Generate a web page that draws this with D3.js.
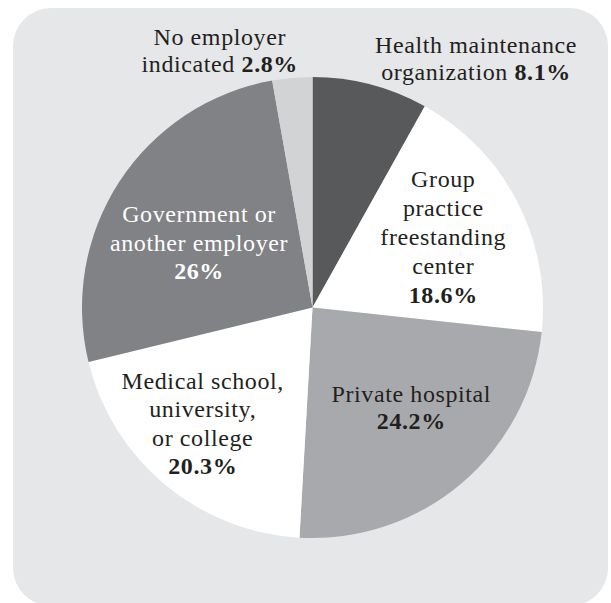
<!DOCTYPE html>
<html>
<head>
<meta charset="utf-8">
<script src="https://cdn.jsdelivr.net/npm/d3@7"></script>
<style>
  html, body { margin: 0; padding: 0; background: #ffffff; }
  svg { display: block; }
  text { font-family: "Liberation Serif", "Times New Roman", serif; }
</style>
</head>
<body>
<svg id="chart" width="611" height="603"></svg>
<script>
// Employer categories, clockwise from 12 o'clock
const categories = [
  "Health maintenance organization",
  "Group practice freestanding center",
  "Private hospital",
  "Medical school, university, or college",
  "Government or another employer",
  "No employer indicated"
];
// Share of respondents, percent
const shares = [8.1, 18.6, 24.2, 20.3, 26, 2.8];
// Label text lines (the percentage is appended in bold to the last line)
const labelLines = [
  ["Health maintenance", "organization"],
  ["Group", "practice", "freestanding", "center", ""],
  ["Private hospital", ""],
  ["Medical school,", "university,", "or college", ""],
  ["Government or", "another employer", ""],
  ["No employer", "indicated"]
];

// Slice fills and label colours
const fills = ["#58595b", "#ffffff", "#a7a9ac", "#ffffff", "#808285", "#d1d3d4"];
const textFills = ["#231f20", "#231f20", "#231f20", "#231f20", "#ffffff", "#231f20"];
// Label nudges from each slice's centroid (first baseline, centre x), and line spacing
const nudges = [[127, -114], [2, -54], [5, -16], [-17, -30], [8, -6], [-80, -118]];
const leading = [27, 29, 27, 28.5, 28.5, 27];

const cx = 312.5, cy = 307.5, R = 230.5;

const svg = d3.select("#chart");

// Rounded panel
svg.append("rect")
  .attr("x", 13).attr("y", 8)
  .attr("width", 595).attr("height", 598)
  .attr("rx", 38).attr("ry", 38)
  .attr("fill", "#e6e7e8");

const data = categories.map((c, i) => ({ name: c, value: shares[i], i }));

const pie = d3.pie().sort(null).value(d => d.value);
const arcs = pie(data);

const arc = d3.arc().innerRadius(0).outerRadius(R);
const labelArc = d3.arc().innerRadius(145).outerRadius(145);

const g = svg.append("g").attr("transform", `translate(${cx},${cy})`);

g.selectAll("path.slice")
  .data(arcs)
  .join("path")
  .attr("class", "slice")
  .attr("d", arc)
  .attr("fill", d => fills[d.data.i]);

g.selectAll("text.label")
  .data(arcs)
  .join("text")
  .attr("class", "label")
  .attr("text-anchor", "middle")
  .attr("font-size", 24)
  .attr("letter-spacing", 0.6)
  .attr("fill", d => textFills[d.data.i])
  .each(function (d) {
    const [x0, y0] = labelArc.centroid(d);
    const [nx, ny] = nudges[d.data.i];
    const x = x0 + nx, y = y0 + ny;
    const lines = labelLines[d.data.i];
    const lh = leading[d.data.i];
    const t = d3.select(this);
    lines.forEach((ln, k) => {
      const last = k === lines.length - 1;
      const tl = t.append("tspan").attr("x", x).attr("y", y + k * lh);
      if (last) {
        if (ln) tl.append("tspan").text(ln + " ");
        tl.append("tspan").attr("font-weight", "bold").text(d.data.value + "%");
      } else {
        tl.text(ln);
      }
    });
  });
</script>
</body>
</html>
